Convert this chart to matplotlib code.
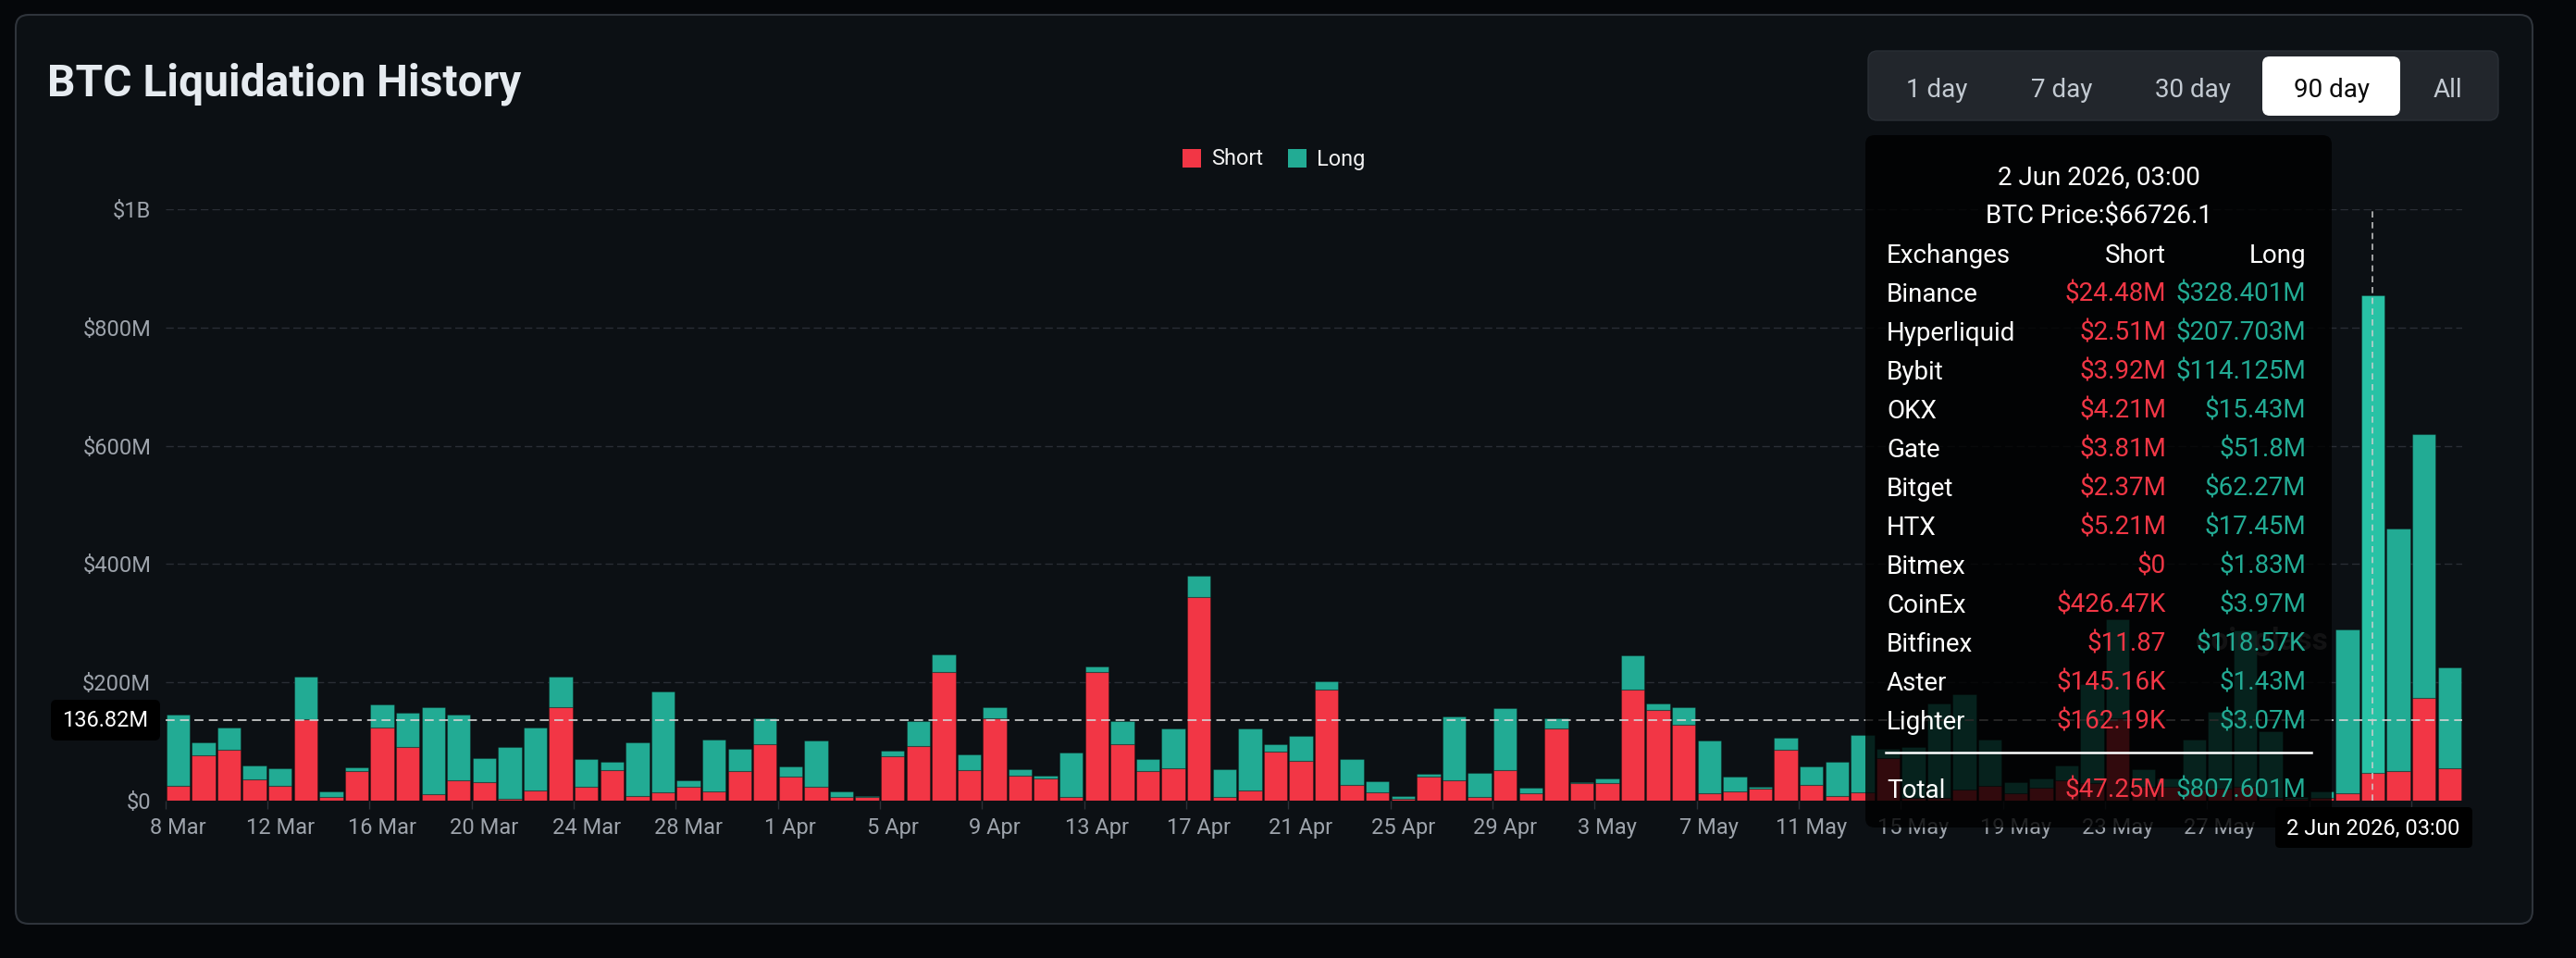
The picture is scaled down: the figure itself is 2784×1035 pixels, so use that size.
import numpy as np
import pandas as pd
import matplotlib
matplotlib.use("Agg")
import matplotlib.pyplot as plt
from matplotlib.patches import FancyBboxPatch, Rectangle

plt.rcParams['font.family'] = ['Roboto', 'DejaVu Sans']

# ---------------- data (values in $M) ----------------
dates = pd.date_range('2026-03-08', periods=90, freq='D')

short_m = [24.5, 76, 86, 36, 24.5, 138, 6.5, 50, 123, 91,
           11.5, 34, 31, 3.6, 16.5, 158, 23, 52, 8.6, 13.7,
           23, 15, 50, 95, 40, 23, 7, 6.5, 75.5, 92,
           218, 52, 139, 43, 37, 7, 218, 95, 50, 54,
           344, 6, 17, 83, 68, 188, 26, 14, 3.6, 40,
           34, 6, 52, 13, 122, 29.5, 30, 188.5, 154, 129,
           13, 16, 21, 86, 26, 8, 13.7, 71.5, 5, 5,
           18, 24.5, 13, 22, 34, 30, 139, 23, 23, 18,
           21, 23.5, 5, 3.6, 5, 12, 47.25, 50, 173, 54.6]

long_m = [120.8, 23, 38, 23, 30.5, 72, 8.5, 6, 40, 57,
          146.5, 111, 41, 86.4, 106.5, 51, 48, 13.5, 89.4, 170.3,
          12, 89, 38, 45, 18, 78, 9, 1.5, 8.5, 43,
          29, 26, 19, 9.5, 5, 75, 9, 39, 20, 68,
          37, 47, 105, 13, 42, 14, 44.5, 19, 4.4, 5,
          109, 41, 104, 9, 18, 2.5, 7.5, 57.5, 10, 29,
          88, 25, 2, 20, 32, 57, 97, 16.5, 86, 160,
          162, 78.5, 18, 16, 26, 167, 167, 30, 15, 85,
          130, 264.5, 112, 2.4, 10.6, 277, 807.601, 410, 446, 170.4]

tick_labels = ["8 Mar", "12 Mar", "16 Mar", "20 Mar", "24 Mar", "28 Mar",
               "1 Apr", "5 Apr", "9 Apr", "13 Apr", "17 Apr", "21 Apr",
               "25 Apr", "29 Apr", "3 May", "7 May", "11 May", "15 May",
               "19 May", "23 May", "27 May", "31 May", "4 Jun"]
hidden_tick_labels = ["31 May", "4 Jun"]   # covered by the axis-pointer label
y_ticks = [0, 200, 400, 600, 800, 1000]
y_tick_labels = ["$0", "$200M", "$400M", "$600M", "$800M", "$1B"]
avg_value = 136.82
hover_date = pd.Timestamp('2026-06-02')

buttons = ["1 day", "7 day", "30 day", "90 day", "All"]
active_button = "90 day"

tt_title = "2 Jun 2026, 03:00"
tt_price = "BTC Price:$66726.1"
exchanges = ["Binance", "Hyperliquid", "Bybit", "OKX", "Gate", "Bitget", "HTX",
             "Bitmex", "CoinEx", "Bitfinex", "Aster", "Lighter"]
ex_short = ["$24.48M", "$2.51M", "$3.92M", "$4.21M", "$3.81M", "$2.37M", "$5.21M",
            "$0", "$426.47K", "$11.87", "$145.16K", "$162.19K"]
ex_long = ["$328.401M", "$207.703M", "$114.125M", "$15.43M", "$51.8M", "$62.27M",
           "$17.45M", "$1.83M", "$3.97M", "$118.57K", "$1.43M", "$3.07M"]
total_short = "$47.25M"
total_long = "$807.601M"

# ---------------- style ----------------
RED = '#f23645'
TEAL = '#22ab94'
TEAL_HI = '#28c2a5'
OUTER = '#05070a'
CARD = '#0c1014'
GRID = '#2a2e35'
AXTXT = '#9da3ab'

W, H = 2784, 1035
fig = plt.figure(figsize=(W / 100, H / 100), dpi=100, facecolor=OUTER)

# background card
bg = fig.add_axes([0, 0, 1, 1], zorder=-2)
bg.set_xlim(0, W); bg.set_ylim(H, 0); bg.axis('off')
bg.add_patch(FancyBboxPatch((17, 16), 2737 - 17, 998 - 16,
                            boxstyle='round,pad=0,rounding_size=14',
                            fc=CARD, ec='#2f343b', lw=1.5))

# main axes
L, R, T, B = 178.6, 2661.0, 226.0, 865.0
ax = fig.add_axes([L / W, (H - B) / H, (R - L) / W, (B - T) / H], zorder=1)
ax.patch.set_alpha(0)
for s in ax.spines.values():
    s.set_visible(False)

x = np.arange(len(dates))
ax.set_xlim(-0.5, len(dates) - 0.5)
ax.set_ylim(0, 1000)

ax.hlines(y_ticks[1:], -0.5, len(dates) - 0.5, colors=GRID, linewidth=1.0,
          linestyles=[(0, (6, 3))], zorder=0)

bars_s = ax.bar(x, short_m, width=0.92, color=RED, edgecolor=(0, 0, 0, 0.25),
                linewidth=0.8, zorder=2)
bars_l = ax.bar(x, long_m, bottom=short_m, width=0.92, color=TEAL,
                edgecolor=(0, 0, 0, 0.25), linewidth=0.8, zorder=2)
hi = int(np.where(dates == hover_date)[0][0])
bars_l[hi].set_facecolor(TEAL_HI)

ax.axhline(avg_value, color='#d6d6d6', lw=1.4, ls=(0, (5, 3)), alpha=0.85, zorder=3)
ax.axvline(hi, color='#cfcfcf', lw=1.2, ls=(0, (4, 3)), alpha=0.9, zorder=4)

ax.set_yticks(y_ticks)
ax.set_yticklabels(y_tick_labels)
ax.tick_params(axis='y', length=0, pad=11, labelsize=17, labelcolor=AXTXT)

major = list(range(0, len(dates), 4))[:len(tick_labels)]
ax.set_xticks(major)
xt = ax.set_xticklabels(tick_labels)
for t in xt:
    if t.get_text() in hidden_tick_labels:
        t.set_visible(False)
ax.set_xticks([m - 0.5 for m in major], minor=True)
ax.tick_params(axis='x', which='major', length=0, pad=13, labelsize=17, labelcolor=AXTXT)
ax.tick_params(axis='x', which='minor', length=6.5, width=1, color='#2c3037')

# overlay in pixel coordinates
ov = fig.add_axes([0, 0, 1, 1], zorder=5)
ov.set_xlim(0, W); ov.set_ylim(H, 0); ov.axis('off'); ov.patch.set_alpha(0)

ov.text(51, 104, "BTC Liquidation History", fontsize=34.5, weight='bold',
        color='#e6ebf0', va='baseline', ha='left')

# legend
ov.add_patch(Rectangle((1278, 161), 20, 20, fc=RED, ec='none'))
ov.text(1309, 178.5, "Short", fontsize=17, color='#f0f0f0', va='baseline', ha='left')
ov.add_patch(Rectangle((1392, 161), 20, 20, fc=TEAL, ec='none'))
ov.text(1423, 178.5, "Long", fontsize=17, color='#f0f0f0', va='baseline', ha='left')

# range buttons
ov.add_patch(FancyBboxPatch((2019, 55), 2700 - 2019, 75,
                            boxstyle='round,pad=0,rounding_size=10',
                            fc='#22262c', ec='#2a2f36', lw=1))
btn_x = [2093, 2228, 2370, 2520, 2645]
for bx, lab in zip(btn_x, buttons):
    if lab == active_button:
        ov.add_patch(FancyBboxPatch((2445, 61), 149, 64,
                                    boxstyle='round,pad=0,rounding_size=8',
                                    fc='white', ec='none'))
        col = '#0a0a0a'
    else:
        col = '#c3cad2'
    ov.text(bx, 105, lab, fontsize=20, color=col, ha='center', va='baseline')

# average label
ov.add_patch(FancyBboxPatch((55, 756), 118, 44, boxstyle='round,pad=0,rounding_size=6',
                            fc='black', ec='none'))
ov.text(114, 785, f"{avg_value:.2f}M", fontsize=17, color='white', ha='center', va='baseline')

# axis-pointer label
ov.add_patch(FancyBboxPatch((2459, 872), 213, 44, boxstyle='round,pad=0,rounding_size=5',
                            fc='black', ec='none', zorder=6))
ov.text(2565, 902, tt_title, fontsize=17, color='white', ha='center', va='baseline', zorder=7)

# watermark
ov.text(2445, 693, "coinglass", fontsize=24, weight='bold', color='#8e9196',
        alpha=0.6, ha='center', va='center', zorder=1)

# tooltip
ov.add_patch(FancyBboxPatch((2016, 146), 504, 748, boxstyle='round,pad=0,rounding_size=10',
                            fc=(0, 0, 0, 0.8), ec='none', zorder=3))
TX_L, TX_S, TX_R, TX_C = 2039, 2341, 2492, 2268
fs = 20
ov.text(TX_C, 199.5, tt_title, fontsize=fs, color='white', ha='center', va='baseline', zorder=4)
ov.text(TX_C, 241, tt_price, fontsize=fs, color='white', ha='center', va='baseline', zorder=4)
ov.text(TX_L, 283.5, "Exchanges", fontsize=fs, color='white', ha='left', va='baseline', zorder=4)
ov.text(TX_S, 283.5, "Short", fontsize=fs, color='white', ha='right', va='baseline', zorder=4)
ov.text(TX_R, 283.5, "Long", fontsize=fs, color='white', ha='right', va='baseline', zorder=4)
for i, (ex, sv, lv) in enumerate(zip(exchanges, ex_short, ex_long)):
    yb = 325.5 + 42 * i
    ov.text(TX_L, yb, ex, fontsize=fs, color='white', ha='left', va='baseline', zorder=4)
    ov.text(TX_S, yb, sv, fontsize=fs, color=RED, ha='right', va='baseline', zorder=4)
    ov.text(TX_R, yb, lv, fontsize=fs, color=TEAL, ha='right', va='baseline', zorder=4)
ov.plot([2038, 2498], [813, 813], color='white', lw=1.8, zorder=4)
ov.text(TX_L, 861.5, "Total", fontsize=fs, color='white', ha='left', va='baseline', zorder=4)
ov.text(TX_S, 861.5, total_short, fontsize=fs, color=RED, ha='right', va='baseline', zorder=4)
ov.text(TX_R, 861.5, total_long, fontsize=fs, color=TEAL, ha='right', va='baseline', zorder=4)

fig.savefig("out.png", dpi=100, facecolor=OUTER)
